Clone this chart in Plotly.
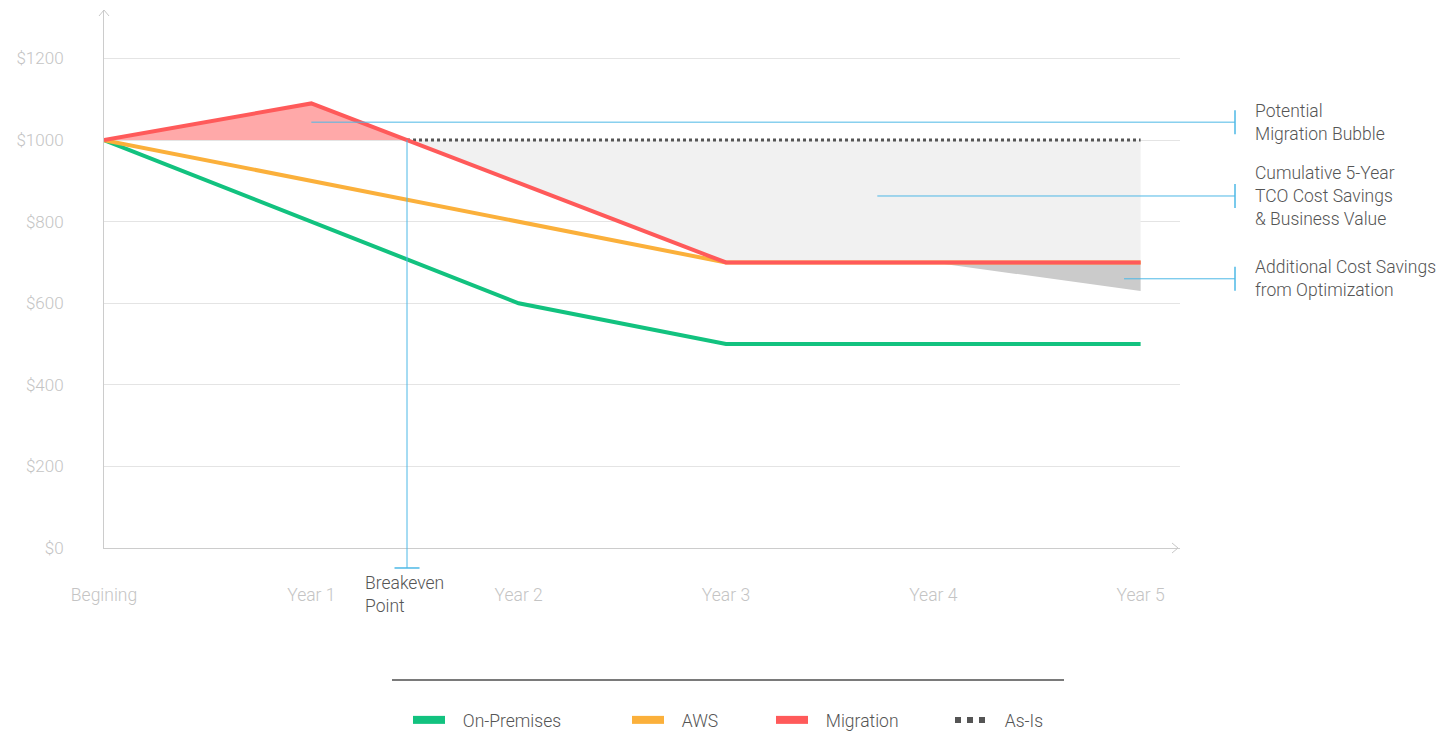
import plotly.graph_objects as go

# ---------------- data ----------------
categories = ["Begining", "Year 1", "Year 2", "Year 3", "Year 4", "Year 5"]
on_premises = [1000, 800, 600, 500, 500, 500]
aws = [1000, 900, 800, 700, 700, 700]
migration = [1000, 1090, 895, 700, 700, 700]
as_is_level = 1000
optimized = [None, None, None, None, 700, 630]
y_ticks = [0, 200, 400, 600, 800, 1000, 1200]
y_tick_labels = ["$" + str(v) for v in y_ticks]

xs = list(range(len(categories)))

# styles
GREEN = "#12c27f"
ORANGE = "#fbb03b"
RED = "#ff5a5a"
DOT = "#555555"
BLUE = "#4db8e6"
TICK = "#c4c4c4"
GRID = "#e4e4e4"
TEXT = "#555555"
FONT = "Roboto"
FS = 17.5

X_RANGE = [0, 5.19]
Y_RANGE = [0, 1319]

# breakeven: where migration crosses as-is level (between idx 1 and 2)
i = 1
xc = i + (migration[i] - as_is_level) / (migration[i] - migration[i + 1])

fig = go.Figure()

# red bubble fill
bx = [x for x in xs if x < xc] + [xc]
by = [migration[x] for x in xs if x < xc] + [as_is_level]
fig.add_trace(go.Scatter(x=bx + [0], y=by + [as_is_level], fill="toself",
                         fillcolor="rgba(255,150,150,0.82)", mode="none",
                         showlegend=False, hoverinfo="skip"))
# grey savings fill
gx = [xc] + [x for x in xs if x > xc]
gy = [as_is_level] + [migration[x] for x in xs if x > xc]
fig.add_trace(go.Scatter(x=gx + [xs[-1], xc], y=gy + [as_is_level, as_is_level],
                         fill="toself", fillcolor="#f1f1f1", mode="none",
                         showlegend=False, hoverinfo="skip"))
# optimization fill
ox = [x for x in xs if optimized[x] is not None]
fig.add_trace(go.Scatter(x=ox + ox[::-1], y=[optimized[x] for x in ox] + [migration[x] for x in ox[::-1]],
                         fill="toself", fillcolor="#cbcbcb", mode="none",
                         showlegend=False, hoverinfo="skip"))

# lines
fig.add_trace(go.Scatter(x=xs, y=on_premises, mode="lines", line=dict(color=GREEN, width=4),
                         showlegend=False))
fig.add_trace(go.Scatter(x=xs, y=aws, mode="lines", line=dict(color=ORANGE, width=4),
                         showlegend=False))
fig.add_trace(go.Scatter(x=[xc, xs[-1]], y=[as_is_level, as_is_level], mode="lines",
                         line=dict(color=DOT, width=3, dash="dot"), showlegend=False))
fig.add_trace(go.Scatter(x=xs, y=migration, mode="lines", line=dict(color=RED, width=4),
                         showlegend=False))

# legend entries (separate legends)
leg = [("On-Premises", GREEN, "solid", "legend", 413),
       ("AWS", ORANGE, "solid", "legend2", 632),
       ("Migration", RED, "solid", "legend3", 776),
       ("As-Is", DOT, "dot", "legend4", 955)]

PL, PR, PT, PB = 104, 1180, 10, 548
def pxx(px):
    return (px - PL) / (PR - PL)
def pxy(py):
    return (PB - py) / (PB - PT)
def vx(v):
    return (v - X_RANGE[0]) / (X_RANGE[1] - X_RANGE[0])
def vy(v):
    return (v - Y_RANGE[0]) / (Y_RANGE[1] - Y_RANGE[0])

layout_legends = {}
for name, col, dash, lg, px in leg:
    fig.add_trace(go.Scatter(x=[None], y=[None], mode="lines", name="\u00a0\u00a0\u00a0" + name,
                             line=dict(color=col, width=8 if dash == "solid" else 6, dash=dash),
                             legend=lg, showlegend=True))
    layout_legends[lg] = dict(x=pxx(px - 5), xanchor="left", y=pxy(720), yanchor="middle",
                              orientation="h", bgcolor="rgba(0,0,0,0)", itemwidth=32,
                              font=dict(family=FONT, size=FS, color=TEXT, weight=300))

fig.update_layout(**layout_legends)

fig.update_layout(
    width=1441, height=731, autosize=False,
    margin=dict(l=PL, r=1441 - PR, t=PT, b=731 - PB, pad=0, autoexpand=False),
    paper_bgcolor="white", plot_bgcolor="white",
    font=dict(family=FONT, size=FS, color=TEXT, weight=300),
    xaxis=dict(range=X_RANGE, tickvals=xs, ticktext=categories, showgrid=False,
               zeroline=False, showline=True, linecolor="#cccccc", linewidth=1,
               ticks="", ticklabelstandoff=31, automargin=False,
               tickfont=dict(family=FONT, size=FS, color=TICK, weight=300)),
    yaxis=dict(range=Y_RANGE, tickvals=y_ticks, ticktext=y_tick_labels, showgrid=True,
               gridcolor=GRID, gridwidth=1, zeroline=False, showline=True,
               linecolor="#cccccc", linewidth=1, ticks="", ticklabelstandoff=36,
               automargin=False,
               tickfont=dict(family=FONT, size=17, color=TICK, weight=300)),
)

shapes = []
# axis arrows
shapes.append(dict(type="path", xref="paper", yref="paper",
                   path=f"M{pxx(1172)},{pxy(543)} L{pxx(1178)},{pxy(548)} L{pxx(1172)},{pxy(553)}",
                   line=dict(color="#c8c8c8", width=1)))
shapes.append(dict(type="path", xref="paper", yref="paper",
                   path=f"M{pxx(99)},{pxy(16)} L{pxx(104)},{pxy(10)} L{pxx(109)},{pxy(16)}",
                   line=dict(color="#c8c8c8", width=1)))

# callouts
TICKX = pxx(1235)
half = 12 / (PB - PT)
callouts = [
    (vx(1), vy(1044), "Potential<br>Migration Bubble"),
    (vx(3.73), vy(863), "Cumulative 5-Year<br>TCO Cost Savings<br>& Business Value"),
    (vx(4.92), vy(660), "Additional Cost Savings<br>from Optimization"),
]
for x0, y0, txt in callouts:
    shapes.append(dict(type="line", xref="paper", yref="paper", x0=x0, x1=TICKX, y0=y0, y1=y0,
                       line=dict(color=BLUE, width=1)))
    shapes.append(dict(type="line", xref="paper", yref="paper", x0=TICKX, x1=TICKX,
                       y0=y0 - half, y1=y0 + half, line=dict(color=BLUE, width=1.5)))
    fig.add_annotation(x=pxx(1253), y=y0, xref="paper", yref="paper", text=txt,
                       showarrow=False, xanchor="left", yanchor="middle", align="left",
                       font=dict(family=FONT, size=FS, color=TEXT, weight=300))

# breakeven callout
bxp = vx(xc)
bottom = vy(-49)
shapes.append(dict(type="line", xref="paper", yref="paper", x0=bxp, x1=bxp,
                   y0=vy(as_is_level), y1=bottom, line=dict(color=BLUE, width=1)))
shapes.append(dict(type="line", xref="paper", yref="paper", x0=bxp - 12.5 / (PR - PL),
                   x1=bxp + 12.5 / (PR - PL), y0=bottom, y1=bottom,
                   line=dict(color=BLUE, width=1.5)))
fig.add_annotation(x=bxp - 44 / (PR - PL), y=pxy(594), xref="paper", yref="paper",
                   text="Breakeven<br>Point", showarrow=False, xanchor="left",
                   yanchor="middle", align="left",
                   font=dict(family=FONT, size=FS, color=TEXT, weight=300))

# legend separator line
shapes.append(dict(type="line", xref="paper", yref="paper", x0=pxx(392), x1=pxx(1064),
                   y0=pxy(680), y1=pxy(680), line=dict(color="#7a7a7a", width=2)))

fig.update_layout(shapes=shapes)

fig.write_html("out.html", config={"displayModeBar": False},
               post_script="document.body.style.margin='0';document.body.style.overflow='hidden';")
